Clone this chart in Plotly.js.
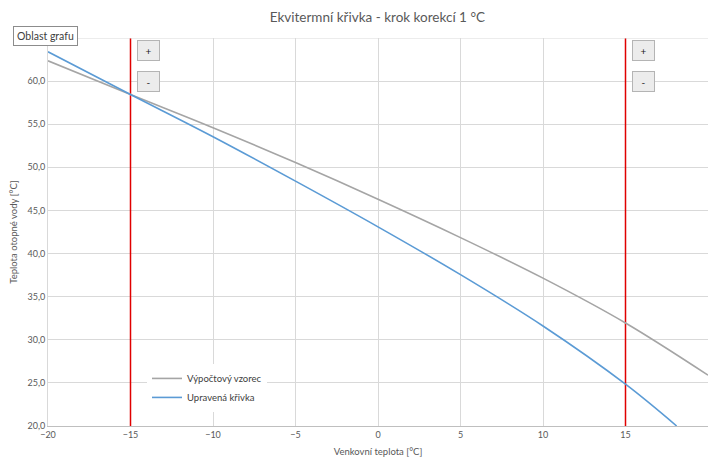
<!DOCTYPE html>
<html>
<head>
<meta charset="utf-8">
<script src="https://cdn.plot.ly/plotly-3.0.1.min.js"></script>
<style>html,body{margin:0;padding:0;background:#fff;}#chart{width:712px;height:457px;}</style>
</head>
<body>
<div id="chart"></div>
<script>
// Data
var outdoorTemp = [-20, -15, -10, -5, 0, 5, 10, 15, 20];
var formulaCurve = [62.35, 58.45, 54.6, 50.55, 46.3, 41.85, 37.15, 31.95, 25.9];
var adjustedX = [-20, -15, -10, -5, 0, 5, 10, 15, 18.1];
var adjustedCurve = [63.4, 58.45, 53.55, 48.4, 43.1, 37.55, 31.6, 24.85, 20.0];
var correctionPoints = [-15, 15];
var yRange = [20, 65];
var yTickVals = [20, 25, 30, 35, 40, 45, 50, 55, 60];
var xRange = [-20, 20];
var seriesNames = ['Výpočtový vzorec', 'Upravená křivka'];
var titleText = 'Ekvitermní křivka - krok korekcí 1 °C';
var xTitle = 'Venkovní teplota [°C]';
var yTitle = 'Teplota otopné vody [°C]';
var tooltipText = 'Oblast grafu';

var FONT = 'Lato, "Open Sans", sans-serif';
var TXT = '#595959';

var traces = [];
correctionPoints.forEach(function (cx) {
  traces.push({
    x: [cx, cx], y: yRange, mode: 'lines', showlegend: false, hoverinfo: 'skip',
    line: {color: '#e00000', width: 1.5}
  });
});
traces.push({
  x: outdoorTemp, y: formulaCurve, name: seriesNames[0], mode: 'lines',
  line: {color: '#a5a5a5', width: 1.6, shape: 'spline', smoothing: 1}
});
traces.push({
  x: adjustedX, y: adjustedCurve, name: seriesNames[1], mode: 'lines',
  line: {color: '#5b9bd5', width: 1.6, shape: 'spline', smoothing: 1}
});

// Buttons (+ / -) next to each correction line
var annotations = [];
correctionPoints.forEach(function (cx) {
  var bx = cx + 1.12;
  [['+', 63.5], ['-', 60.0]].forEach(function (b) {
    annotations.push({
      x: bx, y: b[1], xref: 'x', yref: 'y', text: b[0], showarrow: false,
      width: 19, height: 17, bgcolor: '#ececec', bordercolor: '#b4b4b4', borderwidth: 1,
      font: {family: FONT, size: 10, color: '#222'}
    });
  });
});
annotations.push({
  x: (45 - 48) / 660, y: (426 - 36) / 388, xref: 'paper', yref: 'paper', xanchor: 'center', yanchor: 'middle',
  text: tooltipText, showarrow: false, bgcolor: '#ffffff', bordercolor: '#8c8c8c', borderwidth: 1,
  borderpad: 3, font: {family: FONT, size: 10.5, color: '#404040'}
});

var layout = {
  width: 712, height: 457,
  margin: {l: 48, r: 4, t: 38, b: 31},
  paper_bgcolor: '#ffffff', plot_bgcolor: '#ffffff',
  separators: ', ',
  font: {family: FONT, color: TXT, size: 9},
  title: {text: titleText, x: 0.53, xanchor: 'center', y: 0.962, yanchor: 'middle',
          font: {family: FONT, size: 13.5, color: TXT}},
  xaxis: {
    range: xRange, dtick: 5, tick0: -20, showgrid: true, gridcolor: '#d9d9d9', gridwidth: 1,
    zeroline: false, showline: true, linecolor: '#bfbfbf', ticks: '', ticklen: 0,
    tickfont: {family: FONT, size: 9, color: TXT},
    title: {text: xTitle, font: {family: FONT, size: 9.5, color: TXT}, standoff: 10},
    fixedrange: true
  },
  yaxis: {
    range: yRange, tickvals: yTickVals, tickformat: '.1f', showgrid: true, gridcolor: '#d9d9d9',
    zeroline: false, showline: true, linecolor: '#d9d9d9', ticks: '',
    tickfont: {family: FONT, size: 9, color: TXT},
    title: {text: yTitle, font: {family: FONT, size: 9.5, color: TXT}, standoff: 8},
    fixedrange: true
  },
  shapes: [{type: 'line', xref: 'paper', yref: 'y', x0: 0, x1: 1, y0: 65, y1: 65,
            line: {color: '#d9d9d9', width: 1}}],
  showlegend: true,
  legend: {
    x: 0.15, y: 0.16, xanchor: 'left', yanchor: 'top', bgcolor: '#ffffff',
    borderwidth: 0, font: {family: FONT, size: 9.5, color: '#404040'},
    itemwidth: 30, tracegroupgap: 13, traceorder: 'normal'
  },
  annotations: annotations
};

Plotly.newPlot('chart', traces, layout, {displayModeBar: false, staticPlot: true});
</script>
</body>
</html>
